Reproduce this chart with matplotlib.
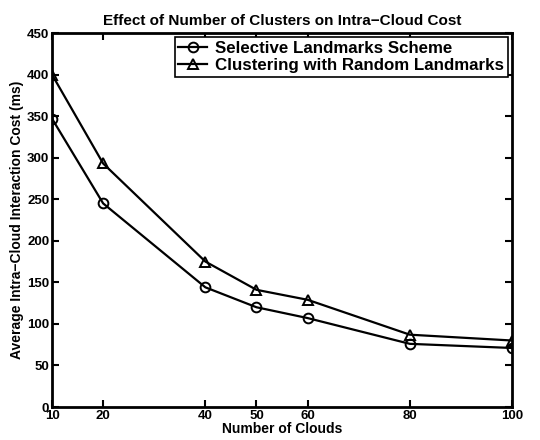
import numpy as np
import matplotlib.pyplot as plt

plt.rcParams['font.family'] = ['Liberation Sans', 'DejaVu Sans']
plt.rcParams['font.weight'] = 'bold'

clouds = [10, 20, 40, 50, 60, 80, 100]
selective = [347, 245, 144, 120, 107, 76, 71]
random_lm = [400, 293, 175, 141, 129, 87, 80]

fig = plt.figure(figsize=(5.4, 4.4), dpi=100)
ax = fig.add_axes([0.0963, 0.075, 0.852, 0.85])

ax.plot(clouds, selective, 'k-o', lw=1.6, ms=7, mfc='none', mew=1.4,
        label='Selective Landmarks Scheme')
ax.plot(clouds, random_lm, 'k-^', lw=1.6, ms=7, mfc='none', mew=1.4,
        label='Clustering with Random Landmarks')

ax.set_xlim(10, 100)
ax.set_ylim(0, 450)
ax.set_xticks(clouds)
ax.set_yticks(np.arange(0, 451, 50))
ax.tick_params(direction='in', top=True, right=True, length=5, width=1.5,
               labelsize=9.5, pad=2)
for s in ax.spines.values():
    s.set_linewidth(2)

ax.set_xlabel('Number of Clouds', fontsize=10, fontweight='bold', labelpad=0)
ax.set_ylabel('Average Intra\u2212Cloud Interaction Cost (ms)', fontsize=10,
              fontweight='bold', labelpad=2)
ax.set_title('Effect of Number of Clusters on Intra\u2212Cloud Cost', fontsize=11,
             fontweight='bold', pad=6)

leg = ax.legend(loc='upper right', fontsize=12.2, fancybox=False, framealpha=1,
                edgecolor='black', borderpad=0.2, handlelength=1.7,
                handletextpad=0.5, labelspacing=0.15, borderaxespad=0.25)
leg.get_frame().set_linewidth(1.2)

fig.savefig('out.png', dpi=100)
